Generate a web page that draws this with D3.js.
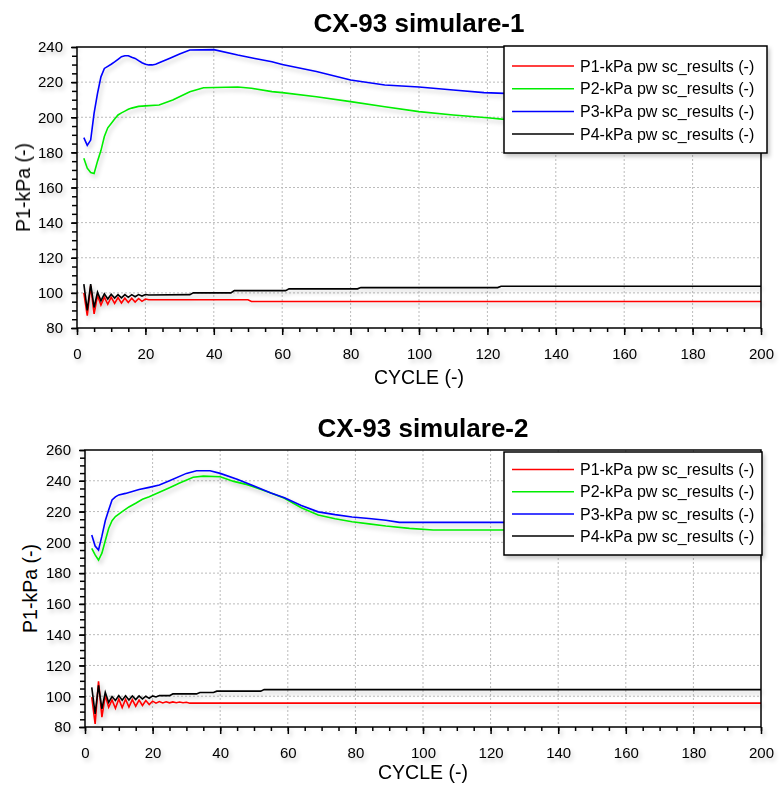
<!DOCTYPE html>
<html>
<head>
<meta charset="utf-8">
<script src="https://cdn.jsdelivr.net/npm/d3@7"></script>
<style>
  body { margin: 0; background: #fff; }
  text { font-family: "Liberation Sans", Arial, sans-serif; fill: #000; }
</style>
</head>
<body>
<div id="chart"></div>
<script>
let width = 781,
    height = 785;

// legend labels + colours (same for both charts)
const seriesNames = [
  "P1-kPa pw sc_results (-)",
  "P2-kPa pw sc_results (-)",
  "P3-kPa pw sc_results (-)",
  "P4-kPa pw sc_results (-)"
];
const seriesColors = ["#ff0000", "#00ee00", "#0000ff", "#000000"];

const xMajor = d3.range(0, 201, 20);
const xMinor = d3.range(0, 201, 5);
const yMajor1 = d3.range(80, 241, 20);
const yMajor2 = d3.range(80, 261, 20);

// ---- simulare-1 : [cycle, kPa] ----
const sim1_P1 = [[2,100],[3,87],[4,104],[5,88],[6,98.5],[7,93],[8,97.5],[9,93.5],[10,97.5],[11,94],
  [12,97.3],[13,94.2],[14,97],[15,94.5],[16,97],[17,94.8],[18,96.8],[19,95.2],[20,96.5],[21,96.1],
  [50,96.1],[51,95.1],[200,95.1]];
const sim1_P2 = [[2,176.6],[3,171],[4,168.5],[5,168],[6,175],[7,181],[8,189],[9,194],[10,196.5],[11,199],
  [12,201.3],[13,202.5],[14,203.5],[15,204.5],[16,205.2],[18,206.2],[20,206.5],[24,207],[28,209.8],
  [33,214.5],[37,216.8],[47,217.2],[51,216.5],[57,214.6],[60,214],[70,211.7],[80,208.9],[90,206],
  [100,203.2],[110,201.3],[120,199.7],[125,198.8],[200,198.8]];
const sim1_P3 = [[2,188.4],[3,184],[4,187],[5,202.4],[6,213.6],[7,223],[8,227.8],[9,229],[10,230.2],
  [11,231.5],[12,233],[13,234.5],[14,235],[15,235],[16,234.2],[17,233.5],[18,232.2],[19,231],[20,230.2],
  [21,229.8],[22,229.8],[23,230.2],[24,231],[27,233.5],[30,236],[33,238.3],[40,238.5],[47,235.4],
  [52,233.5],[57,231.6],[60,230],[70,226],[80,221.2],[90,218.4],[100,217.2],[110,215.5],[119,214],
  [125,213.6],[200,213.6]];
const sim1_P4 = [[2,105],[3,90],[4,105],[5,91.7],[6,100.4],[7,95.5],[8,99.4],[9,96.5],[10,99.2],[11,97],
  [12,99],[13,97.2],[14,99],[15,97.5],[16,99],[17,97.8],[18,99],[19,98.2],[20,99.1],[21,98.8],[33,99],
  [34,100],[45,100],[46,101.3],[61,101.3],[62,102.3],[82,102.3],[83,103],[123,103],[124,103.8],[200,103.8]];

// ---- simulare-2 ----
const sim2_P1 = [[2,99.4],[3,82],[4,109.7],[5,86.4],[6,100.4],[7,92.9],[8,97.6],[9,92.2],[10,98.2],[11,92.6],
  [12,98],[13,93],[14,97.8],[15,93.5],[16,97.5],[17,94],[18,97.2],[19,94.6],[20,96.8],[21,95.5],[22,96.5],
  [23,95.6],[24,96.4],[25,95.7],[26,96.3],[27,95.8],[28,96.2],[29,95.8],[30,96.1],[31,95.5],[200,95.5]];
const sim2_P2 = [[2,196],[3,191.8],[4,188.5],[5,193],[6,201],[7,209],[8,214],[9,216.8],[11,220],[13,223],
  [15,225.4],[17,228],[19,229.6],[22,232.5],[25,235.5],[28,238.5],[32,242.3],[35,243],[40,242.6],
  [44,239.6],[48,237.5],[50,236],[55,232],[59,228.6],[64,222.5],[69,217.8],[74,215.3],[79,213.4],
  [84,212],[89,210.6],[96,209.1],[103,208],[200,208]];
const sim2_P3 = [[2,204.8],[3,197.6],[4,195],[5,204],[6,214],[7,221],[8,227.5],[9,229.5],[10,230.8],
  [12,231.8],[14,233],[16,234.3],[19,235.7],[22,237.2],[25,240],[30,244.8],[33,246.5],[37,246.5],
  [40,244.8],[45,241],[50,236.6],[55,232],[59,229],[64,224],[69,219.8],[74,218],[79,216.5],[84,215.5],
  [89,214.3],[93,213],[200,213]];
const sim2_P4 = [[2,105.8],[3,88.5],[4,107],[5,91.8],[6,102.6],[7,96],[8,99.8],[9,97.2],[10,100.4],[11,97.4],
  [12,100.3],[13,97.6],[14,100.2],[15,97.8],[16,100.2],[17,98.2],[18,100],[19,98.6],[20,100.2],[21,99.5],
  [22,100.4],[25,100.4],[26,101.5],[33,101.5],[34,102.4],[38,102.4],[39,103.3],[52,103.3],[53,104.3],
  [200,104.3]];

const svg = d3.select("#chart").append("svg")
      .attr("width", width)
      .attr("height", height);

const defs = svg.append("defs");
defs.append("filter").attr("id", "shadow")
    .attr("x", "-5%").attr("y", "-5%").attr("width", "115%").attr("height", "130%")
  .append("feDropShadow")
    .attr("dx", 2).attr("dy", 3).attr("stdDeviation", 2)
    .attr("flood-color", "#000").attr("flood-opacity", 0.22);

function drawChart(c) {
  let x = d3.scaleLinear().domain([0, 200]).range([c.left, c.right]);
  let y = d3.scaleLinear().domain(c.yDomain).range([c.bottom, c.top]);
  let g = svg.append("g");

  // dotted grid
  g.append("g").selectAll("line")
      .data(xMajor.slice(1, -1))
      .enter().append("line")
      .attr("x1", d => x(d)).attr("x2", d => x(d))
      .attr("y1", c.top).attr("y2", c.bottom)
      .attr("stroke", "#bbb").attr("stroke-dasharray", "2,2");
  g.append("g").selectAll("line")
      .data(c.yTicks.slice(1, -1))
      .enter().append("line")
      .attr("y1", d => y(d)).attr("y2", d => y(d))
      .attr("x1", c.left).attr("x2", c.right)
      .attr("stroke", "#bbb").attr("stroke-dasharray", "2,2");

  // series
  let line = d3.line().x(d => x(d[0])).y(d => y(d[1]));
  g.append("g").attr("filter", "url(#shadow)")
      .selectAll("path")
      .data(c.series)
      .enter().append("path")
      .attr("d", line)
      .attr("fill", "none")
      .attr("stroke", (d, i) => seriesColors[i])
      .attr("stroke-width", 1.6);

  // frame
  g.append("rect")
      .attr("x", c.left).attr("y", c.top)
      .attr("width", c.right - c.left).attr("height", c.bottom - c.top)
      .attr("fill", "none").attr("stroke", "#000").attr("stroke-width", 1.5);

  // axes
  let ax = g.append("g").attr("filter", "url(#shadow)");
  ax.append("g").attr("transform", "translate(0," + c.bottom + ")")
      .call(d3.axisBottom(x).tickValues(xMinor).tickSize(4).tickSizeOuter(0).tickFormat(""));
  ax.append("g").attr("transform", "translate(0," + c.bottom + ")")
      .call(d3.axisBottom(x).tickValues(xMajor).tickSize(7).tickSizeOuter(0).tickPadding(13));
  ax.append("g").attr("transform", "translate(" + c.left + ",0)")
      .call(d3.axisLeft(y).tickValues(d3.range(c.yDomain[0], c.yDomain[1] + 1, 5)).tickSize(5).tickSizeOuter(0).tickFormat(""));
  ax.append("g").attr("transform", "translate(" + c.left + ",0)")
      .call(d3.axisLeft(y).tickValues(c.yTicks).tickSize(6).tickSizeOuter(0).tickPadding(8));
  ax.selectAll(".domain").remove();
  ax.selectAll(".tick line").attr("stroke", "#000").attr("stroke-width", 1.5);
  ax.selectAll(".tick text").style("font-size", "15px")
      .style("font-family", "'Liberation Sans', Arial, sans-serif");

  // labels
  let cx = (c.left + c.right) / 2;
  g.append("text")
      .attr("x", cx).attr("y", c.titleY)
      .attr("text-anchor", "middle")
      .style("font-size", "26px").style("font-weight", "bold")
      .text(c.title);
  g.append("text")
      .attr("x", cx).attr("y", c.xLabelY)
      .attr("text-anchor", "middle")
      .style("font-size", "19.5px")
      .text("CYCLE (-)");
  g.append("text")
      .attr("transform", "translate(" + c.yLabelX + "," + ((c.top + c.bottom) / 2) + ") rotate(-90)")
      .attr("text-anchor", "middle")
      .style("font-size", "19.5px")
      .text("P1-kPa (-)");

  // legend
  let lg = g.append("g");
  lg.append("rect")
      .attr("x", c.legend.x).attr("y", c.legend.y)
      .attr("width", c.legend.w).attr("height", c.legend.h)
      .attr("fill", "#fff").attr("stroke", "#000").attr("stroke-width", 1.5)
      .attr("filter", "url(#shadow)");
  let item = lg.selectAll(".item")
      .data(seriesNames)
      .enter().append("g")
      .attr("class", "item")
      .attr("transform", (d, i) => "translate(" + c.legend.x + "," + (c.legend.y + c.legend.first + i * c.legend.step) + ")");
  item.append("line")
      .attr("x1", 8).attr("x2", 70)
      .attr("stroke", (d, i) => seriesColors[i]).attr("stroke-width", 1.5);
  item.append("text")
      .attr("x", 76).attr("dy", "0.35em")
      .style("font-size", "16px")
      .text(d => d);
}

drawChart({
  title: "CX-93 simulare-1", titleY: 32,
  left: 77, right: 761, top: 47, bottom: 328,
  yDomain: [80, 240], yTicks: yMajor1, yLabelX: 30, xLabelY: 384,
  series: [sim1_P1, sim1_P2, sim1_P3, sim1_P4],
  legend: { x: 504, y: 46, w: 263, h: 107, first: 20, step: 22.7 }
});

drawChart({
  title: "CX-93 simulare-2", titleY: 437,
  left: 85, right: 761, top: 450, bottom: 727,
  yDomain: [80, 260], yTicks: yMajor2, yLabelX: 37, xLabelY: 779,
  series: [sim2_P1, sim2_P2, sim2_P3, sim2_P4],
  legend: { x: 504, y: 452, w: 258, h: 103, first: 17.5, step: 22.2 }
});
</script>
</body>
</html>
